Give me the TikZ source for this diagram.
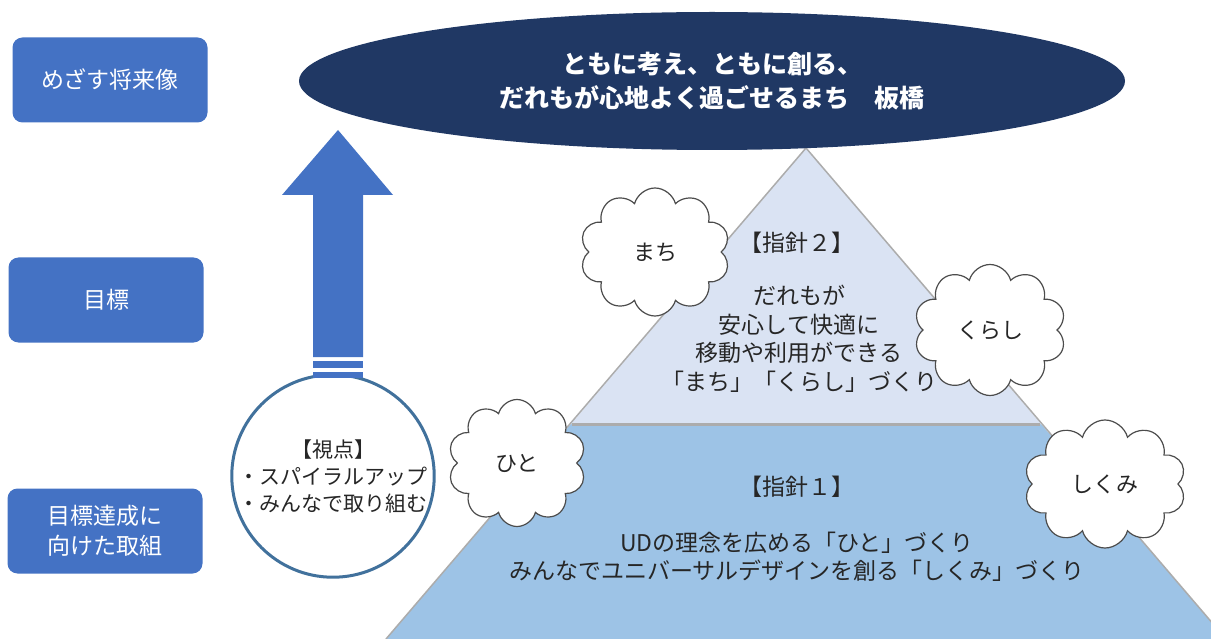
\documentclass[tikz,border=0pt]{standalone}
\usepackage{fontspec}
\setmainfont{Noto Sans CJK JP}
\usepackage{tikz}
\usetikzlibrary{shapes.geometric, shapes.symbols}
\definecolor{navycolor}{RGB}{32,56,100}
\definecolor{boxcolor}{RGB}{68,114,196}
\definecolor{ringcolor}{RGB}{65,113,156}
\definecolor{lightcolor}{RGB}{218,227,243}
\definecolor{midcolor}{RGB}{157,195,230}
\definecolor{inkcolor}{RGB}{38,38,38}

\tikzset{
  sidebox/.style={fill=boxcolor, rounded corners=10pt, minimum width=195pt, minimum height=85pt,
    text=white, align=center, font=\fontsize{23}{30}\selectfont},
  puff/.style={cloud, cloud puffs=10, cloud ignores aspect, draw=gray!60!black, line width=1.2pt, fill=white,
    minimum width=#1, minimum height=128pt, text=inkcolor, font=\fontsize{22}{26}\selectfont},
  body/.style={align=center, text=inkcolor, font=\fontsize{23}{28.5}\selectfont},
}

\begin{document}
\begin{tikzpicture}[x=1pt, y=-1pt]
        % ピラミッドと将来像
        \clip (0,0) rectangle (1211,639);
        \fill[white] (0,0) rectangle (1211,639);
        \fill[midcolor] (571,424) -- (1041,424) -- (1226,639) -- (386,639) -- cycle;
        \fill[lightcolor] (806,148) -- (1041,424) -- (571,424) -- cycle;
        \draw[gray!65, line width=1.5pt] (386,639) -- (806,148) -- (1226,639);
        \draw[gray!65, line width=3pt] (572,424) -- (1040,424);
        \node[body] (rule2) at (797,243) {【指針２】};
        \node[body] (goal2) at (799,339) {だれもが\\安心して快適に\\移動や利用ができる\\「まち」「くらし」づくり};
        \node[body] (rule1) at (797,487) {【指針１】};
        \node[body] (goal1) at (797,557) {UDの理念を広める「ひと」づくり\\みんなでユニバーサルデザインを創る「しくみ」づくり};
        \node[puff=150pt] (machi) at (655,252) {まち};
        \node[puff=152pt, minimum height=131pt] (kurashi) at (990,330) {くらし};
        \node[puff=138pt, minimum height=127pt] (hito) at (517,463) {ひと};
        \node[puff=162pt] (shikumi) at (1105,484) {しくみ};
        \node[circle, draw=ringcolor, line width=3pt, fill=white, minimum size=196pt, inner sep=0pt,
          align=center, text=inkcolor, font=\fontsize{21}{27}\selectfont] (view) at (333,476)
          {【視点】\\・スパイラルアップ\\・みんなで取り組む};
        \fill[boxcolor] (313,357) -- (313,195) -- (282,195) -- (338,130) -- (393,195) -- (363,195) -- (363,357) -- cycle;
        \fill[boxcolor] (313,361) rectangle (363,368);
        \fill[boxcolor] (313,372) rectangle (363,378);
        \node[ellipse, fill=navycolor, minimum width=826pt, minimum height=138pt, align=center,
          text=white, font=\bfseries\fontsize{25}{34}\selectfont] (vision) at (712,81)
          {ともに考え、ともに創る、\\だれもが心地よく過ごせるまち　板橋};
        \node[sidebox] (future) at (110,80) {めざす将来像};
        \node[sidebox] (target) at (106,300) {目標};
        \node[sidebox] (effort) at (105,531) {目標達成に\\向けた取組};
\end{tikzpicture}
\end{document}
